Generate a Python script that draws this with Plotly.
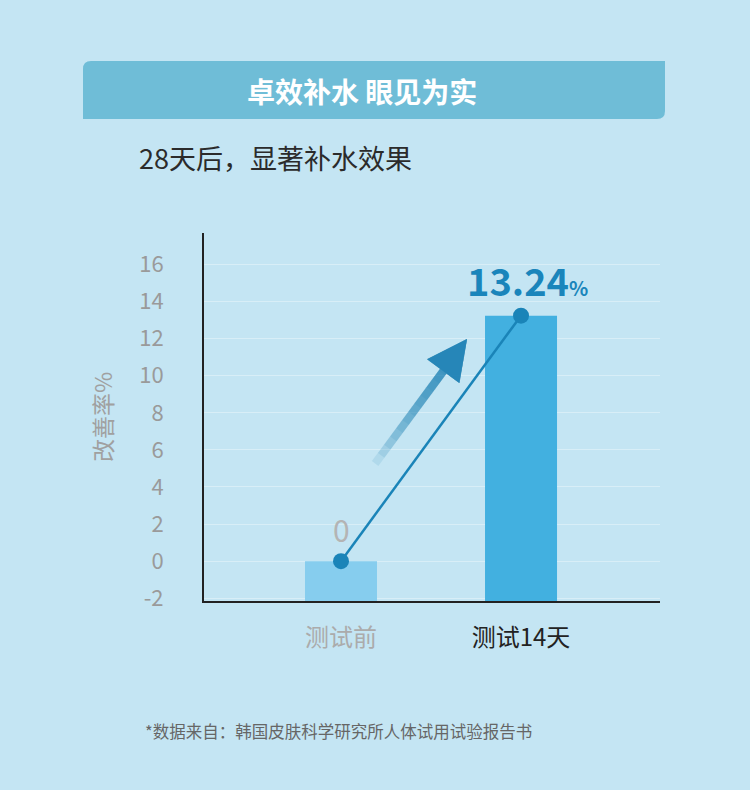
import plotly.graph_objects as go

# data
categories = ["测试前", "测试14天"]
values = [0, 13.24]
value_labels = ["0", "13.24"]
tick_vals = [-2, 0, 2, 4, 6, 8, 10, 12, 14, 16]
tick_labels = ["-2", "0", "2", "4", "6", "8", "10", "12", "14", "16"]

title = "卓效补水 眼见为实"
subtitle = "28天后，显著补水效果"
y_title = "改善率%"
footnote = "*数据来自：韩国皮肤科学研究所人体试用试验报告书"

FONT = "Noto Sans CJK SC"
Y_MIN, Y_MAX = -2.15, 17.7
LINE_BLUE = "#1a84b8"

# plot box in page pixels, used to place the free text
L, T, W, H = 204, 233, 456, 368


def px(x):
    return (x - L) / W


def py(y):
    return (T + H - y) / H


fig = go.Figure()

# bars start at the bottom of the axis
fig.add_trace(go.Bar(
    x=[0, 1], y=[v - Y_MIN for v in values], base=Y_MIN,
    width=0.4, marker=dict(color=["#86cdee", "#42b0e0"], line=dict(width=0)),
    hoverinfo="skip",
))

fig.add_trace(go.Scatter(
    x=[0, 1], y=values, mode="lines+markers",
    line=dict(color=LINE_BLUE, width=2.5),
    marker=dict(color=LINE_BLUE, size=16),
    hoverinfo="skip",
))

# value labels
fig.add_annotation(x=0, y=values[0], text=value_labels[0], showarrow=False,
                   yshift=32, font=dict(family=FONT, size=30, color="#b4b4b4"))
fig.add_annotation(x=1, y=values[1],
                   text=f"<b>{value_labels[1]}</b><span style='font-size:20px'><b>%</b></span>",
                   showarrow=False, yshift=36, xshift=6, yanchor="middle",
                   font=dict(family=FONT, size=38, color="#1a85bb"))

# gradient arrow: stacked semi-transparent arrows sharing one head
head_x = 0 + 0.70 * (1 - 0)
head_y = values[0] + 0.905 * (values[1] - values[0])
n_layers = 14
for i in range(n_layers):
    frac = 1.0 - i * (0.85 / (n_layers - 1))
    fig.add_annotation(
        x=head_x, y=head_y, ax=-93 * frac, ay=126 * frac,
        showarrow=True, arrowhead=2, arrowsize=1.0, arrowwidth=8,
        arrowcolor="rgba(26,128,181,0.11)", text="",
    )
fig.add_annotation(
    x=head_x, y=head_y, ax=-93 * 0.2, ay=126 * 0.2,
    showarrow=True, arrowhead=2, arrowsize=1.0, arrowwidth=8,
    arrowcolor="rgba(26,128,181,0.55)", text="",
)

# header banner
bx0, bx1 = px(83), px(665)
by0, by1 = py(119), py(61)
rx, ry = 8 / W, 8 / H
path = (f"M {bx0} {by0} L {bx1 - rx} {by0} Q {bx1} {by0} {bx1} {by0 + ry} "
        f"L {bx1} {by1} L {bx0 + rx} {by1} Q {bx0} {by1} {bx0} {by1 - ry} Z")
fig.add_shape(type="path", path=path, xref="paper", yref="paper",
              fillcolor="#6fbdd7", line=dict(width=0), layer="below")

fig.add_annotation(x=px(362), y=py(91), xref="paper", yref="paper",
                   text=f"<b>{title}</b>", showarrow=False,
                   xanchor="center", yanchor="middle",
                   font=dict(family=FONT, size=28, color="white"))
fig.add_annotation(x=px(137), y=py(157), xref="paper", yref="paper",
                   text=subtitle, showarrow=False, xanchor="left", yanchor="middle",
                   font=dict(family=FONT, size=27, color="#2b2b2b"))
fig.add_annotation(x=px(102), y=py(417), xref="paper", yref="paper",
                   text=y_title, showarrow=False, textangle=-90,
                   xanchor="center", yanchor="middle",
                   font=dict(family=FONT, size=23, color="#a0a0a0"))
fig.add_annotation(x=px(143), y=py(731), xref="paper", yref="paper",
                   text=footnote, showarrow=False, xanchor="left", yanchor="middle",
                   font=dict(family=FONT, size=16.5, color="#666666"))

fig.update_layout(
    width=750, height=790,
    margin=dict(l=L, r=750 - L - W, t=T, b=790 - T - H),
    paper_bgcolor="#c4e5f3", plot_bgcolor="rgba(0,0,0,0)",
    showlegend=False,
    font=dict(family=FONT),
)
fig.update_xaxes(
    range=[-0.761, 1.772], tickvals=[0, 1],
    ticktext=[f"<span style='color:#ababab'>{categories[0]}</span>",
              f"<span style='color:#222222'>{categories[1]}</span>"],
    tickfont=dict(family=FONT, size=24),
    showline=True, linecolor="#222222", linewidth=2,
    showgrid=False, zeroline=False, ticks="", ticklabelstandoff=14,
)
fig.update_yaxes(
    range=[Y_MIN, Y_MAX], tickvals=tick_vals, ticktext=tick_labels,
    tickfont=dict(family=FONT, size=22, color="#9a9a9a"),
    showline=True, linecolor="#222222", linewidth=2,
    showgrid=True, gridcolor="rgba(255,255,255,0.35)", gridwidth=1,
    zeroline=False, ticks="", ticklabelstandoff=34,
)

fig.write_html("out.html", config={"displayModeBar": False},
               post_script="document.body.style.margin='0';")
